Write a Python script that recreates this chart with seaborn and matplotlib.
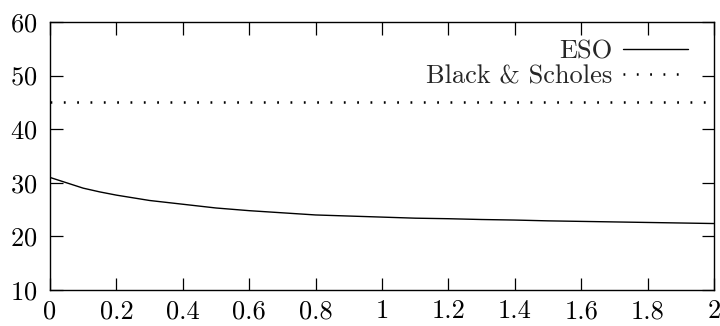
import matplotlib
matplotlib.use("Agg")
import matplotlib.pyplot as plt
import seaborn as sns
import pandas as pd

# Data
eso_x = [0.0, 0.05, 0.1, 0.15, 0.2, 0.3, 0.4, 0.5, 0.6, 0.7, 0.8, 0.9, 1.0,
         1.1, 1.2, 1.3, 1.4, 1.5, 1.6, 1.7, 1.8, 1.9, 2.0]
eso_y = [31.0, 30.0, 29.0, 28.3, 27.7, 26.7, 26.0, 25.3, 24.8, 24.4, 24.0, 23.8, 23.6,
         23.4, 23.3, 23.15, 23.05, 22.9, 22.8, 22.7, 22.6, 22.5, 22.4]
bs_x = [0.0, 2.0]
bs_y = [45.0, 45.0]
x_ticks = [0, 0.2, 0.4, 0.6, 0.8, 1, 1.2, 1.4, 1.6, 1.8, 2]
x_labels = ["0", "0.2", "0.4", "0.6", "0.8", "1", "1.2", "1.4", "1.6", "1.8", "2"]
y_ticks = [10, 20, 30, 40, 50, 60]

sns.set_style("ticks")
plt.rcParams["font.family"] = ["cmr10", "DejaVu Serif"]
plt.rcParams["axes.formatter.use_mathtext"] = True
plt.rcParams["lines.scale_dashes"] = False

fig = plt.figure(figsize=(7.2, 3.26), dpi=100)
ax = fig.add_axes([50 / 720, 36 / 326, 664 / 720, 268 / 326])

df_eso = pd.DataFrame({"x": eso_x, "y": eso_y})
df_bs = pd.DataFrame({"x": bs_x, "y": bs_y})

sns.lineplot(data=df_eso, x="x", y="y", ax=ax, color="black", linewidth=1.0,
             label="ESO")
sns.lineplot(data=df_bs, x="x", y="y", ax=ax, color="black", linewidth=1.8,
             label="Black & Scholes", dashes=False)
ax.lines[1].set_linestyle((0, (1.3, 8.3)))
ax.lines[1].set_dash_capstyle("butt")

ax.set_xlim(0, 2)
ax.set_ylim(10, 60)
ax.set_xticks(x_ticks)
ax.set_xticklabels(x_labels)
ax.set_yticks(y_ticks)
ax.set_xlabel("")
ax.set_ylabel("")

for s in ax.spines.values():
    s.set_visible(True)
    s.set_linewidth(1.0)
    s.set_color("black")

ax.tick_params(direction="in", length=9, width=0.9, top=True, right=True,
               labelsize=19, colors="black")
ax.tick_params(axis="x", pad=7)
ax.tick_params(axis="y", pad=9)

leg = ax.legend(loc="upper right", frameon=False, markerfirst=False,
                fontsize=19, handlelength=2.46, handletextpad=0.42,
                labelspacing=0.06, borderaxespad=0.0, borderpad=0.0,
                bbox_to_anchor=(0.961, 0.935))

fig.savefig("out.png", dpi=100)
